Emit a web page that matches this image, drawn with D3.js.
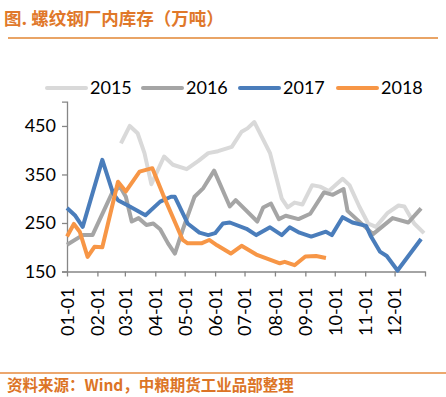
<!DOCTYPE html>
<html>
<head>
<meta charset="utf-8">
<script src="https://cdn.jsdelivr.net/npm/d3@7"></script>
<style>
  html, body { margin: 0; padding: 0; background: #fff; }
  svg { display: block; }
</style>
</head>
<body>
<svg id="svg" width="446" height="397"></svg>
<script>
// weekly readings, dates as MM-DD of the year
const dates2015 = ['02-25','03-06','03-14','03-21','03-28','04-10','04-19','05-03','05-15','05-25','06-04','06-18','06-28','07-04','07-11','07-27','08-08','08-14','08-21','08-29','09-08','09-16','09-25','10-09','10-16','10-26','11-04','11-12','11-24','12-05','12-11','12-21','12-31'];
const values2015 = [414,450,435,394,330,387,370,361,378,394,398,407,438,445,458,394,300,282,292,288,328,325,316,341,328,284,249,242,271,286,284,249,229];

const dates2016 = ['01-01','01-17','01-27','02-16','02-24','03-02','03-08','03-15','03-23','03-30','04-06','04-14','04-21','04-29','05-11','05-20','05-31','06-16','06-22','07-14','07-20','07-28','08-05','08-12','08-25','09-06','09-20','09-29','10-10','10-14','11-09','11-29','12-15','12-28'];
const values2016 = [205,225,225,312,325,304,253,260,246,249,237,208,187,236,304,322,358,284,297,253,282,290,258,265,258,269,313,308,320,275,227,260,251,280];

const dates2017 = ['01-01','01-09','01-17','02-06','02-17','02-22','03-06','03-22','04-06','04-17','04-21','05-04','05-16','05-25','06-01','06-09','06-16','07-03','07-13','07-27','08-08','08-16','08-26','09-07','09-22','09-28','10-09','10-19','11-02','11-07','11-16','11-23','12-04','12-28'];
const values2017 = [281,266,242,380,311,297,284,266,294,304,304,249,230,225,229,249,251,238,225,241,225,241,230,222,232,225,262,251,244,222,191,182,152,217];

const dates2018 = ['01-01','01-08','01-14','01-22','01-29','02-06','02-22','03-02','03-16','03-29','04-09','04-29','05-04','05-18','05-26','06-03','06-17','06-28','07-13','08-06','08-11','08-21','09-01','09-12','09-22'];
const values2018 = [222,248,232,180,201,200,335,315,356,363,308,215,208,208,215,204,187,203,185,167,170,163,181,182,178];

const seriesNames = ['2015','2016','2017','2018'];
const seriesColors = ['#d9d9d9','#a5a5a5','#4a7dbb','#f79646'];
const yTicks = [150,250,350,450];

const svg = d3.select('#svg');
const font = 'Lato, "Liberation Sans", sans-serif';
const cjk = '"Noto Sans CJK SC", sans-serif';

// title and rules
svg.append('text')
  .attr('x', 4).attr('y', 25)
  .attr('font-family', cjk).attr('font-size', 17.5).attr('font-weight', 'bold')
  .attr('fill', '#e0782a')
  .text('图. 螺纹钢厂内库存（万吨）');
svg.append('line')
  .attr('x1', 8).attr('x2', 438).attr('y1', 38).attr('y2', 38)
  .attr('stroke', '#e9a466').attr('stroke-width', 2);
svg.append('line')
  .attr('x1', 0).attr('x2', 446).attr('y1', 373).attr('y2', 373)
  .attr('stroke', '#e68a3e').attr('stroke-width', 1.5);
svg.append('text')
  .attr('x', 7).attr('y', 391)
  .attr('font-family', cjk).attr('font-size', 15.5).attr('font-weight', 'bold')
  .attr('fill', '#dc7426')
  .text('资料来源：Wind，中粮期货工业品部整理');

const parse = d3.timeParse('%Y-%m-%d');
const x = d3.scaleTime()
  .domain([parse('2001-01-01'), parse('2002-01-01')])
  .range([67, 425]);
const y = d3.scaleLinear().domain([150, 500]).range([271.5, 101.7]);

// y axis
const yAxis = svg.append('g')
  .attr('transform', 'translate(67,0)')
  .call(d3.axisLeft(y).tickValues(yTicks).tickSize(5).tickPadding(6));
yAxis.select('.domain').attr('stroke', '#868686').attr('stroke-width', 1.3);
yAxis.selectAll('.tick line').attr('stroke', '#868686').attr('stroke-width', 1.3);
yAxis.selectAll('text').attr('font-family', font).attr('font-size', 18).attr('fill', '#000');

// x axis
const months = d3.timeMonth.range(parse('2001-01-01'), parse('2002-01-02'));
const xAxis = svg.append('g')
  .attr('transform', 'translate(0,271.5)')
  .call(d3.axisBottom(x).tickValues(months).tickSize(5).tickSizeOuter(0)
    .tickFormat((d, i) => i < 12 ? d3.timeFormat('%m-01')(d) : ''));
xAxis.select('.domain').attr('stroke', '#868686').attr('stroke-width', 1.3);
xAxis.selectAll('.tick line').attr('stroke', '#868686').attr('stroke-width', 1.3);
xAxis.selectAll('text')
  .attr('font-family', font).attr('font-size', 18).attr('fill', '#000')
  .attr('transform', 'rotate(-90)')
  .attr('text-anchor', 'end')
  .attr('x', -16).attr('y', 0).attr('dy', '0.35em');

// lines
const allDates = [dates2015, dates2016, dates2017, dates2018];
const allValues = [values2015, values2016, values2017, values2018];
const line = d3.line()
  .x(d => x(parse('2001-' + d.date)))
  .y(d => y(d.value));

allDates.forEach((ds, i) => {
  const data = ds.map((d, j) => ({ date: d, value: allValues[i][j] }));
  svg.append('path')
    .datum(data)
    .attr('fill', 'none')
    .attr('stroke', seriesColors[i])
    .attr('stroke-width', 4)
    .attr('stroke-linejoin', 'round')
    .attr('d', line);
});

// legend
const legendX = [47, 143, 240, 338];
const legend = svg.selectAll('.legend')
  .data(seriesNames)
  .enter().append('g')
  .attr('class', 'legend')
  .attr('transform', (d, i) => 'translate(' + legendX[i] + ',88)');
legend.append('line')
  .attr('x1', 0).attr('x2', 39).attr('y1', 0).attr('y2', 0)
  .attr('stroke', (d, i) => seriesColors[i])
  .attr('stroke-width', 4).attr('stroke-linecap', 'round');
legend.append('text')
  .attr('x', 43).attr('y', 0).attr('dy', '0.36em')
  .attr('font-family', font).attr('font-size', 18).attr('fill', '#000')
  .text(d => d);
</script>
</body>
</html>
